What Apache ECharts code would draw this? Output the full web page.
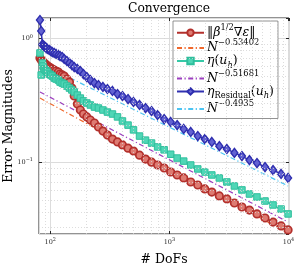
<!DOCTYPE html>
<html><head><meta charset="utf-8">
<script src="https://cdn.jsdelivr.net/npm/echarts@6/dist/echarts.min.js"></script>
<style>html,body{margin:0;padding:0;background:#fff}#c{width:297px;height:268px}</style>
</head><body><div id="c"></div>
<script>
const dofs = [82,84,86,87,89,91,93,95,98,101,104,108,112,117,121,126,131,138,145,152,159,169,179,190,203,217,235,254,277,302,333,367,404,450,500,562,631,709,797,904,1026,1163,1320,1512,1732,1983,2272,2627,3039,3515,4066,4702,5439,6353,7420,8665,9922];
const errEnergy = [0.699,0.673,0.661,0.649,0.637,0.625,0.613,0.602,0.591,0.580,
  0.570,0.559,0.549,0.539,0.519,0.510,0.500,0.473,0.447,0.400,
  0.345,0.297,0.266,0.247,0.234,0.221,0.209,0.194,0.180,0.167,
  0.155,0.147,0.139,0.131,0.124,0.115,0.107,0.101,0.0958,0.0906,
  0.0841,0.0796,0.0753,0.0699,0.0661,0.0614,0.0580,0.0539,0.0510,0.0473,
  0.0439,0.0415,0.0386,0.0358,0.0332,0.0309,0.0287];
const etaEst = [0.767,0.510,0.637,0.602,0.570,0.559,0.549,0.539,0.519,0.510,
  0.500,0.482,0.473,0.464,0.447,0.439,0.431,0.415,0.400,0.386,
  0.372,0.351,0.332,0.315,0.303,0.292,0.281,0.276,0.266,0.256,
  0.247,0.234,0.217,0.201,0.184,0.164,0.152,0.144,0.134,0.127,
  0.117,0.109,0.103,0.0958,0.0890,0.0841,0.0796,0.0753,0.0699,0.0649,
  0.0603,0.0559,0.0529,0.0491,0.0456,0.0423,0.0386];
const etaResidual = [1.415,1.154,0.900,0.885,0.870,0.857,0.841,0.826,0.811,0.796,
  0.781,0.767,0.753,0.739,0.725,0.712,0.686,0.661,0.637,0.613,
  0.591,0.570,0.549,0.519,0.491,0.464,0.439,0.423,0.408,0.393,
  0.379,0.358,0.345,0.326,0.309,0.292,0.276,0.261,0.242,0.225,
  0.213,0.201,0.187,0.177,0.164,0.155,0.147,0.136,0.129,0.120,
  0.113,0.105,0.0994,0.0923,0.0873,0.0811,0.0753];
const fitDofs = [82, 9922];
const fitErr = [0.332, 0.0271];
const fitEta = [0.372, 0.0332];
const fitRes = [0.637, 0.0649];
const xTickValues = [100, 1000, 10000];
const yTickValues = [0.1, 1];
const xMinorGrid = [90,200,300,400,500,600,700,800,900,2000,3000,4000,5000,6000,7000,8000,9000];
const yMinorGrid = [0.03,0.04,0.05,0.06,0.07,0.08,0.09,0.2,0.3,0.4,0.5,0.6,0.7,0.8,0.9];
const seriesNames = ['err','fitErr','eta','fitEta','res','fitRes'];
const legendLabels = {
  err: '{r|‖}{n|β}{sup|1/2}{r|∇}{n|ε}{r|‖}',
  fitErr: '{n|N}{sup|−0.53402}',
  eta: '{n|η}{r|(}{n|u}{sub|h}{r|)}',
  fitEta: '{n|N}{sup|−0.51681}',
  res: '{n|η}{subr|Residual}{r|(}{n|u}{sub|h}{r|)}',
  fitRes: '{n|N}{sup|−0.4935}'
};

const SERIF = 'DejaVu Serif';
const pairs = (xs, ys) => xs.map((x, i) => [x, ys[i]]);
const isTick = (v, list) => list.some(t => Math.abs(Math.log10(v) - Math.log10(t)) < 1e-6);
const fmtPow = (list) => (v) => {
  if (!isTick(v, list)) return '';
  const e = Math.round(Math.log10(v));
  return '{b|10}{s|' + (e < 0 ? '−' + (-e) : e) + '}';
};
const tickRich = {
  b: {fontFamily: SERIF, fontSize: 6.5, color: '#262626'},
  s: {fontFamily: SERIF, fontSize: 5, color: '#262626', verticalAlign: 'top', lineHeight: 10}
};
const xRange = {min: 80.5, max: 10100};
const yRange = {min: 0.0266, max: 1.469};
const dashDot = [5, 2.5, 1.2, 2.5];
const FS = 12.5;
const LH = 17.5;

const chart = echarts.init(document.getElementById('c'), null, {renderer: 'canvas'});
chart.setOption({
  animation: false,
  backgroundColor: '#fff',
  title: {
    text: 'Convergence', left: 164, top: -2, textAlign: 'center',
    textStyle: {fontFamily: SERIF, fontSize: 12.3, fontWeight: 'normal', color: '#000'}
  },
  grid: {left: 39, right: 8, top: 18, bottom: 34, show: true, borderColor: '#262626', borderWidth: 1,
         backgroundColor: 'transparent', containLabel: false, outerBoundsMode: 'none'},
  legend: {
    orient: 'vertical', left: 173, top: 21,
    data: seriesNames.map(n => n.startsWith('fit') ? {name: n, itemStyle: {opacity: 0}} : {name: n}),
    backgroundColor: '#fff', borderColor: '#777', borderWidth: 0.8,
    padding: [3, 4, 3, 3], itemGap: 0, itemWidth: 27, itemHeight: 8,
    formatter: (n) => legendLabels[n],
    textStyle: {
      fontFamily: SERIF, color: '#000', padding: [0, 0, 0, -2],
      rich: {
        n: {fontFamily: SERIF, fontSize: FS, fontStyle: 'italic', color: '#000', lineHeight: LH},
        r: {fontFamily: SERIF, fontSize: FS, color: '#000', lineHeight: LH},
        sup: {fontFamily: SERIF, fontSize: 8.3, color: '#000', verticalAlign: 'top', lineHeight: LH},
        sub: {fontFamily: SERIF, fontSize: 8.3, fontStyle: 'italic', color: '#000', verticalAlign: 'bottom', lineHeight: LH},
        subr: {fontFamily: SERIF, fontSize: 8.3, color: '#000', verticalAlign: 'bottom', lineHeight: LH}
      }
    }
  },
  xAxis: [{
    type: 'log', logBase: 10, ...xRange,
    name: '# DoFs', nameLocation: 'middle', nameGap: 19, nameMoveOverlap: false,
    nameTextStyle: {fontFamily: SERIF, fontSize: 12.5, color: '#000'},
    axisLine: {show: false},
    axisTick: {inside: true, length: 3, lineStyle: {color: '#262626'}},
    axisLabel: {margin: 3, formatter: fmtPow(xTickValues), rich: tickRich, showMinLabel: false, showMaxLabel: true},
    splitLine: {show: true, lineStyle: {color: '#dcdcdc', width: 1}},
    minorTick: {show: false}
  }, {
    type: 'log', logBase: 10, ...xRange, position: 'top',
    axisLine: {show: false}, axisLabel: {show: false}, splitLine: {show: false},
    axisTick: {inside: true, length: 3, lineStyle: {color: '#262626'}}
  }],
  yAxis: [{
    type: 'log', logBase: 10, ...yRange,
    name: 'Error Magnitudes', nameLocation: 'middle', nameGap: 24, nameMoveOverlap: false,
    nameTextStyle: {fontFamily: SERIF, fontSize: 12.5, color: '#000'},
    axisLine: {show: false},
    axisTick: {inside: true, length: 3, lineStyle: {color: '#262626'}},
    axisLabel: {margin: 6, formatter: fmtPow(yTickValues), rich: tickRich, showMinLabel: false, showMaxLabel: false},
    splitLine: {show: true, lineStyle: {color: '#dcdcdc', width: 1}}
  }, {
    type: 'log', logBase: 10, ...yRange, position: 'right',
    axisLine: {show: false}, axisLabel: {show: false}, splitLine: {show: false},
    axisTick: {inside: true, length: 3, lineStyle: {color: '#262626'}}
  }],
  series: [
    {
      name: 'gridMinor', type: 'line', data: [[xRange.min, yRange.min]], showSymbol: false, silent: true, z: 1,
      lineStyle: {opacity: 0},
      markLine: {
        silent: true, symbol: 'none', label: {show: false}, animation: false,
        lineStyle: {color: '#d4d4d4', width: 0.8, type: [1, 2]},
        data: xMinorGrid.map(v => ({xAxis: v})).concat(yMinorGrid.map(v => ({yAxis: v})))
      }
    },
    {
      name: 'err', type: 'line', data: pairs(dofs, errEnergy), z: 3,
      symbol: 'circle', symbolSize: 7.5,
      lineStyle: {color: '#b3302c', width: 1.5},
      itemStyle: {color: '#de7b72', borderColor: '#b3302c', borderWidth: 1.7}
    },
    {
      name: 'fitErr', type: 'line', data: pairs(fitDofs, fitErr), z: 3,
      symbol: 'none', lineStyle: {color: '#f0682c', width: 1.2, type: dashDot},
      itemStyle: {color: '#f0682c'}
    },
    {
      name: 'eta', type: 'line', data: pairs(dofs, etaEst), z: 3,
      symbol: 'rect', symbolSize: 6.5,
      lineStyle: {color: '#36c9a7', width: 1.5},
      itemStyle: {color: '#4fd6b6', borderColor: '#2fbe9c', borderWidth: 1}
    },
    {
      name: 'fitEta', type: 'line', data: pairs(fitDofs, fitEta), z: 3,
      symbol: 'none', lineStyle: {color: '#9c3fbf', width: 1.2, type: dashDot},
      itemStyle: {color: '#9c3fbf'}
    },
    {
      name: 'res', type: 'line', data: pairs(dofs, etaResidual), z: 3,
      symbol: 'diamond', symbolSize: [7, 9],
      lineStyle: {color: '#3030b0', width: 1.5},
      itemStyle: {color: '#6262d2', borderColor: '#2e2eae', borderWidth: 1.4}
    },
    {
      name: 'fitRes', type: 'line', data: pairs(fitDofs, fitRes), z: 3,
      symbol: 'none', lineStyle: {color: '#4cc4f2', width: 1.2, type: dashDot},
      itemStyle: {color: '#4cc4f2'}
    }
  ]
});
</script>
</body></html>
